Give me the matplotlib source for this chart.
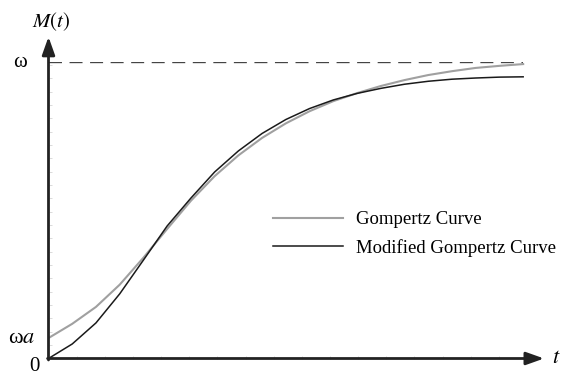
import matplotlib.pyplot as plt
import numpy as np

# values (M given as a fraction of omega)
t = [0, 0.5, 1, 1.5, 2, 2.5, 3, 3.5, 4, 4.5, 5, 5.5, 6, 6.5, 7, 7.5, 8, 8.5, 9, 9.5, 10]
gompertz = [0.069, 0.117, 0.174, 0.249, 0.340, 0.437, 0.532, 0.615, 0.685, 0.744, 0.793,
            0.834, 0.868, 0.895, 0.919, 0.939, 0.956, 0.969, 0.980, 0.987, 0.993]
modified = [0.0, 0.049, 0.120, 0.218, 0.332, 0.447, 0.541, 0.629, 0.700, 0.759, 0.806,
            0.843, 0.872, 0.894, 0.911, 0.925, 0.935, 0.942, 0.946, 0.949, 0.950]
omega = 1.0
omega_a = 0.069
labels = ['Gompertz Curve', 'Modified Gompertz Curve']

plt.rcParams['font.family'] = ['Liberation Serif', 'DejaVu Serif']
plt.rcParams['mathtext.fontset'] = 'stix'

fig = plt.figure(figsize=(5.8, 3.77), dpi=100)
ax = fig.add_axes([48.5 / 580, 18.5 / 377, 478.5 / 580, 296.5 / 377])
ax.set_xlim(0, 10)
ax.set_ylim(0, 1)
for s in ax.spines.values():
    s.set_visible(False)

# faint inward ticks
ax.set_xticks(np.arange(0.593, 10.4, 0.593))
ax.set_yticks(np.arange(0.045, 1.0, 0.045))
ax.tick_params(direction='in', length=2.5, width=0.6, color='#d4d4d4',
               labelbottom=False, labelleft=False)

# axes with arrow heads
arrow = dict(arrowstyle='-|>,head_length=0.9,head_width=0.32', lw=2, color='#222222',
             mutation_scale=12, shrinkA=0, shrinkB=0)
ax.annotate('', xy=(10.44, 0), xytext=(-0.02, 0), arrowprops=arrow, annotation_clip=False)
ax.annotate('', xy=(0, 1.085), xytext=(0, -0.005), arrowprops=arrow, annotation_clip=False)

ax.plot([0, 10], [omega, omega], color='#444444', lw=1.7, ls=(0, (5.5, 3.2)))
ax.plot(t, gompertz, color='#a0a0a0', lw=1.5, label=labels[0])
ax.plot(t, modified, color='#1a1a1a', lw=1.1, label=labels[1])

ax.text(0.05, 1.135, '$M(t)$', fontsize=15, ha='center', va='center')
ax.text(-0.6, omega, 'ω', fontsize=15, ha='center', va='center')
ax.text(-0.28, omega_a, 'ω$a$', fontsize=16, ha='right', va='center')
ax.text(-0.30, -0.027, '0', fontsize=15, ha='center', va='center')
ax.text(10.69, 0.0, '$t$', fontsize=16, ha='center', va='center')

ax.legend(loc='upper left', bbox_to_anchor=(273 / 580, 1 - 211 / 377),
          bbox_transform=fig.transFigure, frameon=False, fontsize=13.5,
          handlelength=3.73, handletextpad=0.69, borderpad=0, borderaxespad=0,
          labelspacing=0.58)

fig.savefig('out.png', dpi=100)
